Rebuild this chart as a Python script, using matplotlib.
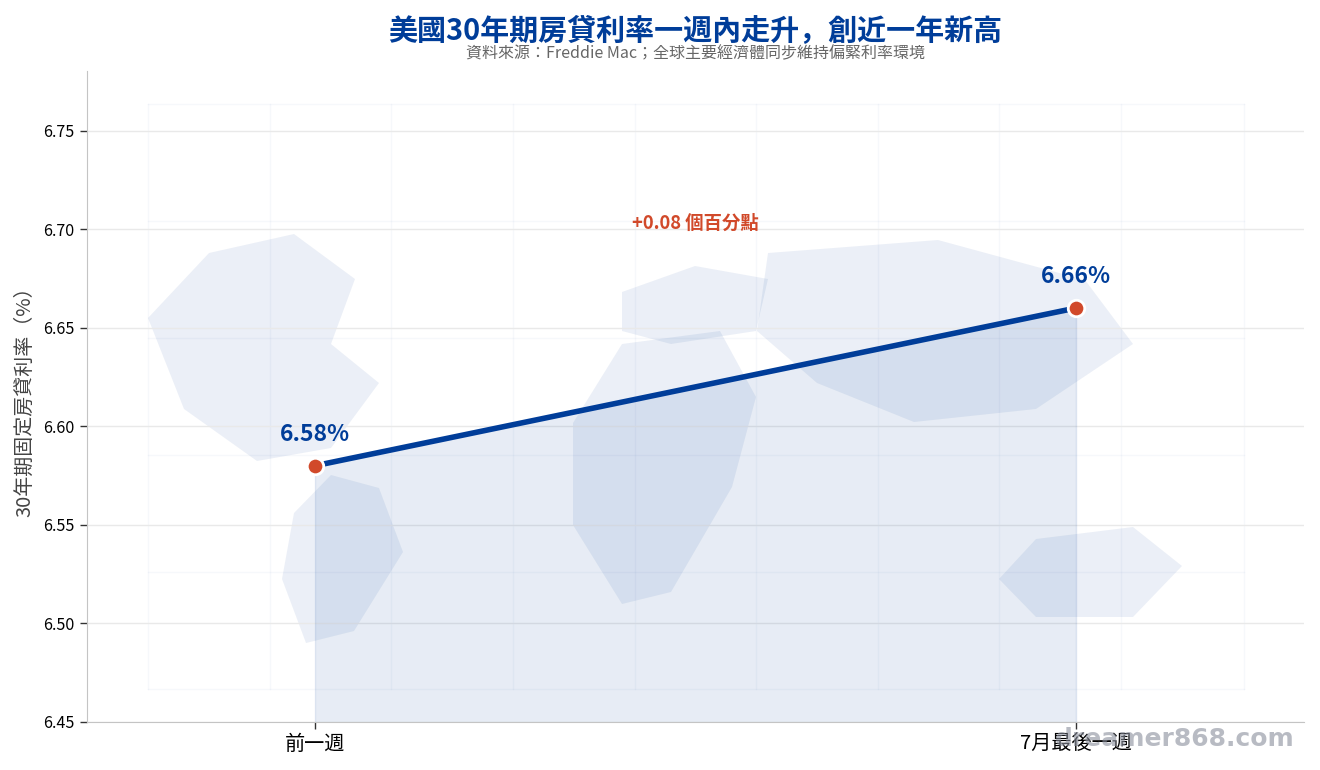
import matplotlib
matplotlib.use("Agg")
import matplotlib.pyplot as plt
from matplotlib.patches import Polygon

plt.rcParams['font.family'] = ['Noto Sans CJK JP', 'DejaVu Sans']

# chart data
periods = ["前一週", "7月最後一週"]
rates = [6.58, 6.66]
rate_labels = ["6.58%", "6.66%"]
y_ticks = [6.45, 6.50, 6.55, 6.60, 6.65, 6.70, 6.75]

# background map decoration, in picture pixels
map_grid_x = [148, 270, 391, 513, 635, 756, 878, 999, 1121, 1244]
map_grid_y = [104, 221, 338, 455, 572, 689]
map_shapes = [
    [(148, 318), (209, 253), (294, 234), (355, 279), (331, 344), (379, 383), (331, 448), (257, 461), (184, 409)],
    [(331, 475), (379, 488), (403, 552), (354, 631), (306, 643), (282, 579), (294, 513)],
    [(622, 292), (695, 266), (768, 279), (756, 331), (671, 344), (622, 331)],
    [(622, 344), (720, 331), (756, 397), (732, 487), (671, 592), (622, 604), (573, 525), (573, 423)],
    [(768, 253), (938, 240), (1085, 280), (1133, 344), (1036, 409), (914, 422), (817, 383), (757, 331)],
    [(1036, 539), (1133, 527), (1182, 566), (1133, 617), (1036, 617), (999, 579)],
]

BLUE = "#003d99"
RED = "#d1492a"

fig = plt.figure(figsize=(13.2, 7.7), dpi=100, facecolor="white")

# decoration layer underneath the chart
bg = fig.add_axes([0, 0, 1, 1], zorder=0)
bg.set_xlim(0, 1320)
bg.set_ylim(770, 0)
bg.axis("off")
for gx in map_grid_x:
    bg.plot([gx, gx], [map_grid_y[0], map_grid_y[-1]], color=BLUE, alpha=0.035, lw=1)
for gy in map_grid_y:
    bg.plot([map_grid_x[0], map_grid_x[-1]], [gy, gy], color=BLUE, alpha=0.035, lw=1)
for shape in map_shapes:
    bg.add_patch(Polygon(shape, closed=True, facecolor=BLUE, alpha=0.08, edgecolor="none"))

ax = fig.add_axes([86.5 / 1320, 48 / 770, 1217.5 / 1320, 651 / 770], zorder=1)
ax.patch.set_alpha(0)
x = range(len(periods))

ax.fill_between(x, rates, 6.45, color=BLUE, alpha=0.095, lw=0)
ax.plot([1, 1], [6.45, rates[1]], color=BLUE, alpha=0.12, lw=1)
ax.plot([0, 0], [6.45, rates[0]], color=BLUE, alpha=0.08, lw=1)
ax.plot(x, rates, color=BLUE, lw=4, solid_capstyle="round", zorder=3,
        marker="o", ms=16.5 * 0.72, mfc=RED, mec="white", mew=2)

for i, label in enumerate(rate_labels):
    ax.annotate(label, (i, rates[i]), xytext=(0, 14.5), textcoords="offset points",
                ha="center", va="bottom", color=BLUE, fontsize=16.5, fontweight="bold")

ax.text(0.5, 6.7030, "+0.08 個百分點", ha="center", va="center", color=RED,
        fontsize=13.2, fontweight="bold")

ax.set_xlim(-0.3, 1.3)
ax.set_ylim(6.45, 6.7803)
ax.set_xticks(list(x))
ax.set_xticklabels(periods, fontsize=14.5)
ax.set_yticks(y_ticks)
ax.set_yticklabels([f"{v:.2f}" for v in y_ticks], fontsize=11.6)
ax.set_ylabel("30年期固定房貸利率（%）", fontsize=14.4, color="#444444", labelpad=6)
ax.grid(axis="y", color="#e9e9e9", lw=1)
ax.set_axisbelow(True)
for side in ["top", "right"]:
    ax.spines[side].set_visible(False)
for side in ["left", "bottom"]:
    ax.spines[side].set_color("#c4c4c4")
ax.tick_params(length=5, width=1, color="#333333")

fig.text(695 / 1320, 1 - 31.5 / 770, "美國30年期房貸利率一週內走升，創近一年新高", ha="center", va="center",
         color=BLUE, fontsize=20.9, fontweight="bold")
fig.text(695.5 / 1320, 1 - 53.5 / 770, "資料來源：Freddie Mac；全球主要經濟體同步維持偏緊利率環境", ha="center", va="center",
         color="#666666", fontsize=11.5)
fig.text(1295 / 1320, 1 - 739 / 770, "dreamer868.com", ha="right", va="center", color="#8a8f9c", alpha=0.6,
         fontsize=18, fontweight="bold", family="DejaVu Sans", zorder=5)

fig.savefig("out.png", dpi=100)
